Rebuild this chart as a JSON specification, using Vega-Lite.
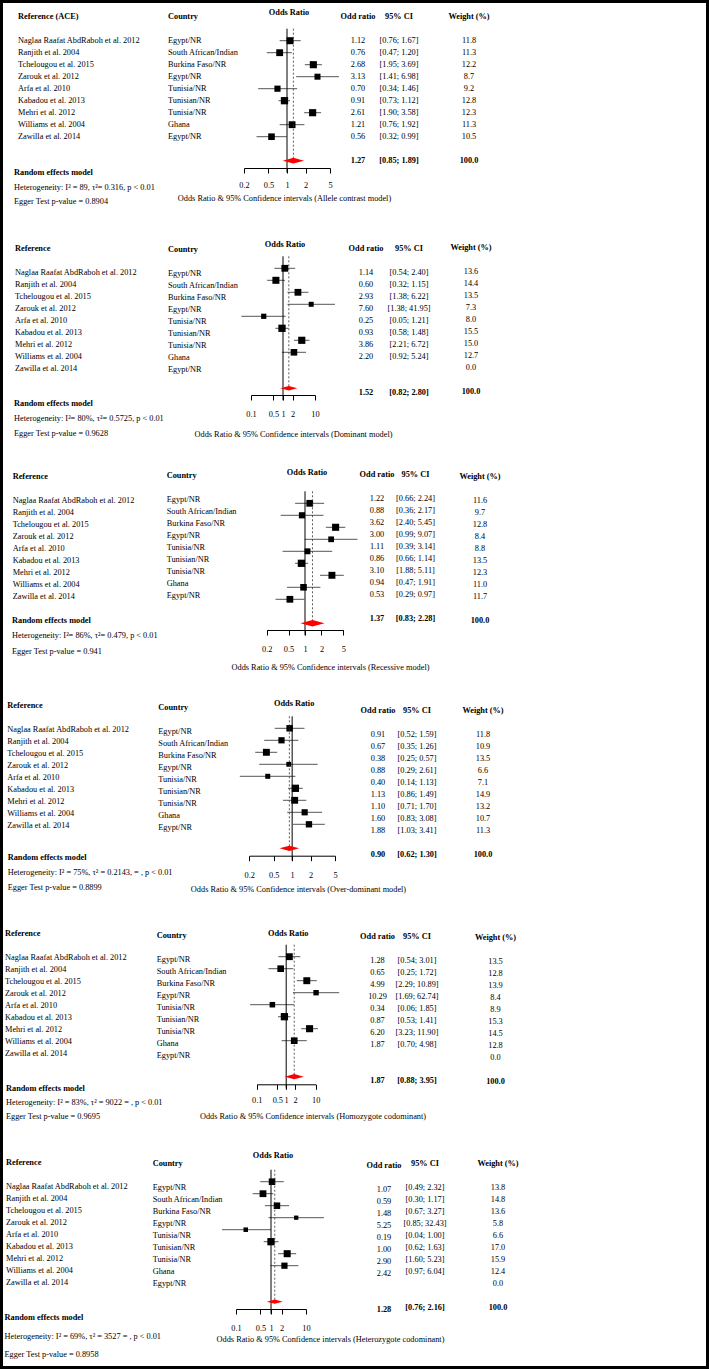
{
"$schema":"https://vega.github.io/schema/vega-lite/v6.json",
"width":709,"height":1369,"padding":0,"autosize":{"type":"none"},
"config":{"font":"Liberation Serif","view":{"stroke":"black","strokeWidth":6},
"text":{"font":"Liberation Serif","fontSize":8.3,"color":"black"},
"axis":{"labelFont":"Liberation Serif","titleFont":"Liberation Serif","labelFontSize":8.3,"titleFontSize":8.3,"titleFontWeight":"normal","labelColor":"black","titleColor":"black","domainColor":"black","tickColor":"black","domainWidth":1,"tickWidth":1,"tickSize":5,"grid":false,"labelOverlap":false,"labelFlush":false,"titleAlign":"center","titleBaseline":"top"}},
"datasets":{
"p1":[
{"k":"_h","t":"h","s":"Reference (ACE)","c":"Country","f":"Odds Ratio","ort":"Odd ratio","cit":"95% CI","wt":"Weight (%)"},
{"k":"s1","t":"s","s":"Naglaa Raafat AbdRaboh et al. 2012","c":"Egypt/NR","or":1.12,"lo":0.76,"hi":1.67,"w":11.8,"ort":"1.12","cit":"[0.76; 1.67]","wt":"11.8"},
{"k":"s2","t":"s","s":"Ranjith et al. 2004","c":"South African/Indian","or":0.76,"lo":0.47,"hi":1.20,"w":11.3,"ort":"0.76","cit":"[0.47; 1.20]","wt":"11.3"},
{"k":"s3","t":"s","s":"Tchelougou et al. 2015","c":"Burkina Faso/NR","or":2.68,"lo":1.95,"hi":3.69,"w":12.2,"ort":"2.68","cit":"[1.95; 3.69]","wt":"12.2"},
{"k":"s4","t":"s","s":"Zarouk et al. 2012","c":"Egypt/NR","or":3.13,"lo":1.41,"hi":6.98,"w":8.7,"ort":"3.13","cit":"[1.41; 6.98]","wt":"8.7"},
{"k":"s5","t":"s","s":"Arfa et al. 2010","c":"Tunisia/NR","or":0.70,"lo":0.34,"hi":1.46,"w":9.2,"ort":"0.70","cit":"[0.34; 1.46]","wt":"9.2"},
{"k":"s6","t":"s","s":"Kabadou et al. 2013","c":"Tunisian/NR","or":0.91,"lo":0.73,"hi":1.12,"w":12.8,"ort":"0.91","cit":"[0.73; 1.12]","wt":"12.8"},
{"k":"s7","t":"s","s":"Mehri et al. 2012","c":"Tunisia/NR","or":2.61,"lo":1.90,"hi":3.58,"w":12.3,"ort":"2.61","cit":"[1.90; 3.58]","wt":"12.3"},
{"k":"s8","t":"s","s":"Williams et al. 2004","c":"Ghana","or":1.21,"lo":0.76,"hi":1.92,"w":11.3,"ort":"1.21","cit":"[0.76; 1.92]","wt":"11.3"},
{"k":"s9","t":"s","s":"Zawilla et al. 2014","c":"Egypt/NR","or":0.56,"lo":0.32,"hi":0.99,"w":10.5,"ort":"0.56","cit":"[0.32; 0.99]","wt":"10.5"},
{"k":"RE","t":"m","or":1.27,"lo":0.85,"hi":1.89,"ort":"1.27","cit":"[0.85; 1.89]","wt":"100.0"}],
"p2":[
{"k":"_h","t":"h","s":"Reference","c":"Country","f":"Odds Ratio","ort":"Odd ratio","cit":"95% CI","wt":"Weight (%)"},
{"k":"s1","t":"s","s":"Naglaa Raafat AbdRaboh et al. 2012","c":"Egypt/NR","or":1.14,"lo":0.54,"hi":2.40,"w":13.6,"ort":"1.14","cit":"[0.54; 2.40]","wt":"13.6"},
{"k":"s2","t":"s","s":"Ranjith et al. 2004","c":"South African/Indian","or":0.60,"lo":0.32,"hi":1.15,"w":14.4,"ort":"0.60","cit":"[0.32; 1.15]","wt":"14.4"},
{"k":"s3","t":"s","s":"Tchelougou et al. 2015","c":"Burkina Faso/NR","or":2.93,"lo":1.38,"hi":6.22,"w":13.5,"ort":"2.93","cit":"[1.38; 6.22]","wt":"13.5"},
{"k":"s4","t":"s","s":"Zarouk et al. 2012","c":"Egypt/NR","or":7.60,"lo":1.38,"hi":41.95,"w":7.3,"ort":"7.60","cit":"[1.38; 41.95]","wt":"7.3"},
{"k":"s5","t":"s","s":"Arfa et al. 2010","c":"Tunisia/NR","or":0.25,"lo":0.05,"hi":1.21,"w":8.0,"ort":"0.25","cit":"[0.05; 1.21]","wt":"8.0"},
{"k":"s6","t":"s","s":"Kabadou et al. 2013","c":"Tunisian/NR","or":0.93,"lo":0.58,"hi":1.48,"w":15.5,"ort":"0.93","cit":"[0.58; 1.48]","wt":"15.5"},
{"k":"s7","t":"s","s":"Mehri et al. 2012","c":"Tunisia/NR","or":3.86,"lo":2.21,"hi":6.72,"w":15.0,"ort":"3.86","cit":"[2.21; 6.72]","wt":"15.0"},
{"k":"s8","t":"s","s":"Williams et al. 2004","c":"Ghana","or":2.20,"lo":0.92,"hi":5.24,"w":12.7,"ort":"2.20","cit":"[0.92; 5.24]","wt":"12.7"},
{"k":"s9","t":"s","s":"Zawilla et al. 2014","c":"Egypt/NR","w":0,"wt":"0.0"},
{"k":"RE","t":"m","or":1.52,"lo":0.82,"hi":2.80,"ort":"1.52","cit":"[0.82; 2.80]","wt":"100.0"}],
"p3":[
{"k":"_h","t":"h","s":"Reference","c":"Country","f":"Odds Ratio","ort":"Odd ratio","cit":"95% CI","wt":"Weight (%)"},
{"k":"s1","t":"s","s":"Naglaa Raafat AbdRaboh et al. 2012","c":"Egypt/NR","or":1.22,"lo":0.66,"hi":2.24,"w":11.6,"ort":"1.22","cit":"[0.66; 2.24]","wt":"11.6"},
{"k":"s2","t":"s","s":"Ranjith et al. 2004","c":"South African/Indian","or":0.88,"lo":0.36,"hi":2.17,"w":9.7,"ort":"0.88","cit":"[0.36; 2.17]","wt":"9.7"},
{"k":"s3","t":"s","s":"Tchelougou et al. 2015","c":"Burkina Faso/NR","or":3.62,"lo":2.40,"hi":5.45,"w":12.8,"ort":"3.62","cit":"[2.40; 5.45]","wt":"12.8"},
{"k":"s4","t":"s","s":"Zarouk et al. 2012","c":"Egypt/NR","or":3.00,"lo":0.99,"hi":9.07,"w":8.4,"ort":"3.00","cit":"[0.99; 9.07]","wt":"8.4"},
{"k":"s5","t":"s","s":"Arfa et al. 2010","c":"Tunisia/NR","or":1.11,"lo":0.39,"hi":3.14,"w":8.8,"ort":"1.11","cit":"[0.39; 3.14]","wt":"8.8"},
{"k":"s6","t":"s","s":"Kabadou et al. 2013","c":"Tunisian/NR","or":0.86,"lo":0.66,"hi":1.14,"w":13.5,"ort":"0.86","cit":"[0.66; 1.14]","wt":"13.5"},
{"k":"s7","t":"s","s":"Mehri et al. 2012","c":"Tunisia/NR","or":3.10,"lo":1.88,"hi":5.11,"w":12.3,"ort":"3.10","cit":"[1.88; 5.11]","wt":"12.3"},
{"k":"s8","t":"s","s":"Williams et al. 2004","c":"Ghana","or":0.94,"lo":0.47,"hi":1.91,"w":11.0,"ort":"0.94","cit":"[0.47; 1.91]","wt":"11.0"},
{"k":"s9","t":"s","s":"Zawilla et al. 2014","c":"Egypt/NR","or":0.53,"lo":0.29,"hi":0.97,"w":11.7,"ort":"0.53","cit":"[0.29; 0.97]","wt":"11.7"},
{"k":"RE","t":"m","or":1.37,"lo":0.83,"hi":2.28,"ort":"1.37","cit":"[0.83; 2.28]","wt":"100.0"}],
"p4":[
{"k":"_h","t":"h","s":"Reference","c":"Country","f":"Odds Ratio","ort":"Odd ratio","cit":"95% CI","wt":"Weight (%)"},
{"k":"s1","t":"s","s":"Naglaa Raafat AbdRaboh et al. 2012","c":"Egypt/NR","or":0.91,"lo":0.52,"hi":1.59,"w":11.8,"ort":"0.91","cit":"[0.52; 1.59]","wt":"11.8"},
{"k":"s2","t":"s","s":"Ranjith et al. 2004","c":"South African/Indian","or":0.67,"lo":0.35,"hi":1.26,"w":10.9,"ort":"0.67","cit":"[0.35; 1.26]","wt":"10.9"},
{"k":"s3","t":"s","s":"Tchelougou et al. 2015","c":"Burkina Faso/NR","or":0.38,"lo":0.25,"hi":0.57,"w":13.5,"ort":"0.38","cit":"[0.25; 0.57]","wt":"13.5"},
{"k":"s4","t":"s","s":"Zarouk et al. 2012","c":"Egypt/NR","or":0.88,"lo":0.29,"hi":2.61,"w":6.6,"ort":"0.88","cit":"[0.29; 2.61]","wt":"6.6"},
{"k":"s5","t":"s","s":"Arfa et al. 2010","c":"Tunisia/NR","or":0.40,"lo":0.14,"hi":1.13,"w":7.1,"ort":"0.40","cit":"[0.14; 1.13]","wt":"7.1"},
{"k":"s6","t":"s","s":"Kabadou et al. 2013","c":"Tunisian/NR","or":1.13,"lo":0.86,"hi":1.49,"w":14.9,"ort":"1.13","cit":"[0.86; 1.49]","wt":"14.9"},
{"k":"s7","t":"s","s":"Mehri et al. 2012","c":"Tunisia/NR","or":1.10,"lo":0.71,"hi":1.70,"w":13.2,"ort":"1.10","cit":"[0.71; 1.70]","wt":"13.2"},
{"k":"s8","t":"s","s":"Williams et al. 2004","c":"Ghana","or":1.60,"lo":0.83,"hi":3.08,"w":10.7,"ort":"1.60","cit":"[0.83; 3.08]","wt":"10.7"},
{"k":"s9","t":"s","s":"Zawilla et al. 2014","c":"Egypt/NR","or":1.88,"lo":1.03,"hi":3.41,"w":11.3,"ort":"1.88","cit":"[1.03; 3.41]","wt":"11.3"},
{"k":"RE","t":"m","or":0.90,"lo":0.62,"hi":1.30,"ort":"0.90","cit":"[0.62; 1.30]","wt":"100.0"}],
"p5":[
{"k":"_h","t":"h","s":"Reference","c":"Country","f":"Odds Ratio","ort":"Odd ratio","cit":"95% CI","wt":"Weight (%)"},
{"k":"s1","t":"s","s":"Naglaa Raafat AbdRaboh et al. 2012","c":"Egypt/NR","or":1.28,"lo":0.54,"hi":3.01,"w":13.5,"ort":"1.28","cit":"[0.54; 3.01]","wt":"13.5"},
{"k":"s2","t":"s","s":"Ranjith et al. 2004","c":"South African/Indian","or":0.65,"lo":0.25,"hi":1.72,"w":12.8,"ort":"0.65","cit":"[0.25; 1.72]","wt":"12.8"},
{"k":"s3","t":"s","s":"Tchelougou et al. 2015","c":"Burkina Faso/NR","or":4.99,"lo":2.29,"hi":10.89,"w":13.9,"ort":"4.99","cit":"[2.29; 10.89]","wt":"13.9"},
{"k":"s4","t":"s","s":"Zarouk et al. 2012","c":"Egypt/NR","or":10.29,"lo":1.69,"hi":62.74,"w":8.4,"ort":"10.29","cit":"[1.69; 62.74]","wt":"8.4"},
{"k":"s5","t":"s","s":"Arfa et al. 2010","c":"Tunisia/NR","or":0.34,"lo":0.06,"hi":1.85,"w":8.9,"ort":"0.34","cit":"[0.06; 1.85]","wt":"8.9"},
{"k":"s6","t":"s","s":"Kabadou et al. 2013","c":"Tunisian/NR","or":0.87,"lo":0.53,"hi":1.41,"w":15.3,"ort":"0.87","cit":"[0.53; 1.41]","wt":"15.3"},
{"k":"s7","t":"s","s":"Mehri et al. 2012","c":"Tunisia/NR","or":6.20,"lo":3.23,"hi":11.90,"w":14.5,"ort":"6.20","cit":"[3.23; 11.90]","wt":"14.5"},
{"k":"s8","t":"s","s":"Williams et al. 2004","c":"Ghana","or":1.87,"lo":0.70,"hi":4.98,"w":12.8,"ort":"1.87","cit":"[0.70; 4.98]","wt":"12.8"},
{"k":"s9","t":"s","s":"Zawilla et al. 2014","c":"Egypt/NR","w":0,"wt":"0.0"},
{"k":"RE","t":"m","or":1.87,"lo":0.88,"hi":3.95,"ort":"1.87","cit":"[0.88; 3.95]","wt":"100.0"}],
"p6":[
{"k":"_h","t":"h","s":"Reference","c":"Country","f":"Odds Ratio","ort":"Odd ratio","cit":"95% CI","wt":"Weight (%)"},
{"k":"s1","t":"s","s":"Naglaa Raafat AbdRaboh et al. 2012","c":"Egypt/NR","or":1.07,"lo":0.49,"hi":2.32,"w":13.8,"ort":"1.07","cit":"[0.49; 2.32]","wt":"13.8"},
{"k":"s2","t":"s","s":"Ranjith et al. 2004","c":"South African/Indian","or":0.59,"lo":0.30,"hi":1.17,"w":14.8,"ort":"0.59","cit":"[0.30; 1.17]","wt":"14.8"},
{"k":"s3","t":"s","s":"Tchelougou et al. 2015","c":"Burkina Faso/NR","or":1.48,"lo":0.67,"hi":3.27,"w":13.6,"ort":"1.48","cit":"[0.67; 3.27]","wt":"13.6"},
{"k":"s4","t":"s","s":"Zarouk et al. 2012","c":"Egypt/NR","or":5.25,"lo":0.85,"hi":32.43,"w":5.8,"ort":"5.25","cit":"[0.85; 32.43]","wt":"5.8"},
{"k":"s5","t":"s","s":"Arfa et al. 2010","c":"Tunisia/NR","or":0.19,"lo":0.04,"hi":1.00,"w":6.6,"ort":"0.19","cit":"[0.04; 1.00]","wt":"6.6"},
{"k":"s6","t":"s","s":"Kabadou et al. 2013","c":"Tunisian/NR","or":1.00,"lo":0.62,"hi":1.63,"w":17.0,"ort":"1.00","cit":"[0.62; 1.63]","wt":"17.0"},
{"k":"s7","t":"s","s":"Mehri et al. 2012","c":"Tunisia/NR","or":2.90,"lo":1.60,"hi":5.23,"w":15.9,"ort":"2.90","cit":"[1.60; 5.23]","wt":"15.9"},
{"k":"s8","t":"s","s":"Williams et al. 2004","c":"Ghana","or":2.42,"lo":0.97,"hi":6.04,"w":12.4,"ort":"2.42","cit":"[0.97; 6.04]","wt":"12.4"},
{"k":"s9","t":"s","s":"Zawilla et al. 2014","c":"Egypt/NR","w":0,"wt":"0.0"},
{"k":"RE","t":"m","or":1.28,"lo":0.76,"hi":2.16,"ort":"1.28","cit":"[0.76; 2.16]","wt":"100.0"}]
},
"resolve":{"scale":{"x":"independent","y":"independent","size":"independent"},"axis":{"x":"independent","y":"independent"}},
"layer":[
{"data":{"name":"p1"},"resolve":{"scale":{"x":"independent"},"axis":{"x":"independent"}},
"layer":[
{"layer":[
{"transform":[{"filter":"datum.t == 's' && isValid(datum.lo)"}],"mark":{"type":"rule","color":"#555","strokeWidth":1},
"encoding":{"x":{"field":"lo","type":"quantitative","scale":{"type":"log","domain":[0.2,5],"range":[244,330],"nice":false},"axis":{"orient":"bottom","offset":-1201,"values":[0.2,0.5,1,2,5],"format":"~g","labelPadding":7,"title":"Odds Ratio & 95% Confidence intervals (Allele contrast model)","titleX":284,"titleY":25}},
"x2":{"field":"hi"},
"y":{"field":"k","type":"nominal","scale":{"type":"point","domain":["_h","_g","s1","s2","s3","s4","s5","s6","s7","s8","s9","_s","RE","_r"],"range":[16.7,172.7],"padding":0},"axis":null}}},
{"transform":[{"filter":"datum.t == 's' && isValid(datum.lo)"}],"mark":{"type":"square","filled":true,"color":"black","opacity":1},
"encoding":{"x":{"field":"or","type":"quantitative"},"y":{"field":"k","type":"nominal","axis":null},"size":{"field":"w","type":"quantitative","scale":{"domain":[0,12.8],"range":[0,53]},"legend":null}}},
{"transform":[{"filter":"datum.t == 'm'"}],"mark":{"type":"rule","color":"black","strokeWidth":1},
"encoding":{"x":{"datum":1,"type":"quantitative"},"y":{"datum":"_g","type":"nominal","axis":null},"y2":{"datum":"_r"}}},
{"transform":[{"filter":"datum.t == 'm'"}],"mark":{"type":"rule","color":"#333","strokeWidth":0.8,"strokeDash":[2,2]},
"encoding":{"x":{"field":"or","type":"quantitative"},"y":{"datum":"_g","type":"nominal","axis":null},"y2":{"datum":"RE"}}},
{"transform":[{"filter":"datum.t == 'm'"}],"mark":{"type":"point","shape":"M-1,0L0,-0.27L1,0L0,0.27Z","filled":true,"color":"#ff0000","opacity":1,"size":454},
"encoding":{"x":{"field":"or","type":"quantitative"},"y":{"field":"k","type":"nominal","axis":null}}},
{"transform":[{"filter":"datum.t == 'h'"}],"mark":{"type":"text","fontWeight":"bold","align":"center","dx":2,"dy":-3.7},
"encoding":{"x":{"datum":1,"type":"quantitative"},"y":{"field":"k","type":"nominal","axis":null},"text":{"field":"f","type":"nominal"}}}
]},
{"transform":[{"filter":"isValid(datum.s)"}],"mark":{"type":"text","align":"left","dy":0,"fontWeight":{"expr":"datum.t == 's' ? 'normal' : 'bold'"}},
"encoding":{"x":{"datum":"ref","type":"nominal","scale":{"type":"point","range":[18,18],"padding":0},"axis":null},"y":{"field":"k","type":"nominal","axis":null},"text":{"field":"s","type":"nominal"}}},
{"transform":[{"filter":"isValid(datum.c)"}],"mark":{"type":"text","align":"left","dy":0,"fontWeight":{"expr":"datum.t == 's' ? 'normal' : 'bold'"}},
"encoding":{"x":{"datum":"country","type":"nominal","scale":{"type":"point","range":[168,168],"padding":0},"axis":null},"y":{"field":"k","type":"nominal","axis":null},"text":{"field":"c","type":"nominal"}}},
{"transform":[{"filter":"isValid(datum.ort)"}],"mark":{"type":"text","align":"center","dy":0,"fontWeight":{"expr":"datum.t == 's' ? 'normal' : 'bold'"}},
"encoding":{"x":{"datum":"or","type":"nominal","scale":{"type":"point","range":[358,358],"padding":0},"axis":null},"y":{"field":"k","type":"nominal","axis":null},"text":{"field":"ort","type":"nominal"}}},
{"transform":[{"filter":"isValid(datum.cit)"}],"mark":{"type":"text","align":"center","dy":0,"fontWeight":{"expr":"datum.t == 's' ? 'normal' : 'bold'"}},
"encoding":{"x":{"datum":"ci","type":"nominal","scale":{"type":"point","range":[399,399],"padding":0},"axis":null},"y":{"field":"k","type":"nominal","axis":null},"text":{"field":"cit","type":"nominal"}}},
{"transform":[{"filter":"isValid(datum.wt)"}],"mark":{"type":"text","align":"center","dy":0,"fontWeight":{"expr":"datum.t == 's' ? 'normal' : 'bold'"}},
"encoding":{"x":{"datum":"w","type":"nominal","scale":{"type":"point","range":[469,469],"padding":0},"axis":null},"y":{"field":"k","type":"nominal","axis":null},"text":{"field":"wt","type":"nominal"}}}
]},
{"data":{"values":[{"k":"a","t":"Random effects model"},{"k":"b","t":"Heterogeneity: I² = 89, τ²= 0.316, p < 0.01"},{"k":"c","t":"Egger Test p-value = 0.8904"}]},
"mark":{"type":"text","align":"left","fontWeight":{"expr":"datum.k == 'a' ? 'bold' : 'normal'"}},
"encoding":{"x":{"datum":"n","type":"nominal","scale":{"type":"point","range":[14,14],"padding":0},"axis":null},"y":{"field":"k","type":"nominal","scale":{"type":"point","domain":["a","b","c"],"range":[173,202],"padding":0},"axis":null},"text":{"field":"t","type":"nominal"}}},

{"data":{"name":"p2"},"resolve":{"scale":{"x":"independent"},"axis":{"x":"independent"}},
"layer":[
{"layer":[
{"transform":[{"filter":"datum.t == 's' && isValid(datum.lo)"}],"mark":{"type":"rule","color":"#555","strokeWidth":1},
"encoding":{"x":{"field":"lo","type":"quantitative","scale":{"type":"log","domain":[0.1,10],"range":[251,315],"nice":false},"axis":{"orient":"bottom","offset":-974,"values":[0.1,0.5,1,2,10],"format":"~g","labelPadding":9,"title":"Odds Ratio & 95% Confidence intervals (Dominant model)","titleX":293,"titleY":34}},
"x2":{"field":"hi"},
"y":{"field":"k","type":"nominal","scale":{"type":"point","domain":["_h","_g","s1","s2","s3","s4","s5","s6","s7","s8","s9","_s","RE","_r"],"range":[244.3,400.3],"padding":0},"axis":null}}},
{"transform":[{"filter":"datum.t == 's' && isValid(datum.lo)"}],"mark":{"type":"square","filled":true,"color":"black","opacity":1},
"encoding":{"x":{"field":"or","type":"quantitative"},"y":{"field":"k","type":"nominal","axis":null},"size":{"field":"w","type":"quantitative","scale":{"domain":[0,15.5],"range":[0,53]},"legend":null}}},
{"transform":[{"filter":"datum.t == 'm'"}],"mark":{"type":"rule","color":"black","strokeWidth":1},
"encoding":{"x":{"datum":1,"type":"quantitative"},"y":{"datum":"_g","type":"nominal","axis":null},"y2":{"datum":"_r"}}},
{"transform":[{"filter":"datum.t == 'm'"}],"mark":{"type":"rule","color":"#333","strokeWidth":0.8,"strokeDash":[2,2]},
"encoding":{"x":{"field":"or","type":"quantitative"},"y":{"datum":"_g","type":"nominal","axis":null},"y2":{"datum":"RE"}}},
{"transform":[{"filter":"datum.t == 'm'"}],"mark":{"type":"point","shape":"M-1,0L0,-0.27L1,0L0,0.27Z","filled":true,"color":"#ff0000","opacity":1,"size":292},
"encoding":{"x":{"field":"or","type":"quantitative"},"y":{"field":"k","type":"nominal","axis":null}}},
{"transform":[{"filter":"datum.t == 'h'"}],"mark":{"type":"text","fontWeight":"bold","align":"center","dx":2,"dy":0.7},
"encoding":{"x":{"datum":1,"type":"quantitative"},"y":{"field":"k","type":"nominal","axis":null},"text":{"field":"f","type":"nominal"}}}
]},
{"transform":[{"filter":"isValid(datum.s)"}],"mark":{"type":"text","align":"left","dy":5,"fontWeight":{"expr":"datum.t == 's' ? 'normal' : 'bold'"}},
"encoding":{"x":{"datum":"ref","type":"nominal","scale":{"type":"point","range":[15,15],"padding":0},"axis":null},"y":{"field":"k","type":"nominal","axis":null},"text":{"field":"s","type":"nominal"}}},
{"transform":[{"filter":"isValid(datum.c)"}],"mark":{"type":"text","align":"left","dy":6,"fontWeight":{"expr":"datum.t == 's' ? 'normal' : 'bold'"}},
"encoding":{"x":{"datum":"country","type":"nominal","scale":{"type":"point","range":[168,168],"padding":0},"axis":null},"y":{"field":"k","type":"nominal","axis":null},"text":{"field":"c","type":"nominal"}}},
{"transform":[{"filter":"isValid(datum.ort)"}],"mark":{"type":"text","align":"center","dy":5,"fontWeight":{"expr":"datum.t == 's' ? 'normal' : 'bold'"}},
"encoding":{"x":{"datum":"or","type":"nominal","scale":{"type":"point","range":[366,366],"padding":0},"axis":null},"y":{"field":"k","type":"nominal","axis":null},"text":{"field":"ort","type":"nominal"}}},
{"transform":[{"filter":"isValid(datum.cit)"}],"mark":{"type":"text","align":"center","dy":5,"fontWeight":{"expr":"datum.t == 's' ? 'normal' : 'bold'"}},
"encoding":{"x":{"datum":"ci","type":"nominal","scale":{"type":"point","range":[409,409],"padding":0},"axis":null},"y":{"field":"k","type":"nominal","axis":null},"text":{"field":"cit","type":"nominal"}}},
{"transform":[{"filter":"isValid(datum.wt)"}],"mark":{"type":"text","align":"center","dy":3.5,"fontWeight":{"expr":"datum.t == 's' ? 'normal' : 'bold'"}},
"encoding":{"x":{"datum":"w","type":"nominal","scale":{"type":"point","range":[471,471],"padding":0},"axis":null},"y":{"field":"k","type":"nominal","axis":null},"text":{"field":"wt","type":"nominal"}}}
]},
{"data":{"values":[{"k":"a","t":"Random effects model"},{"k":"b","t":"Heterogeneity: I²= 80%, τ²= 0.5725, p < 0.01"},{"k":"c","t":"Egger Test p-value = 0.9628"}]},
"mark":{"type":"text","align":"left","fontWeight":{"expr":"datum.k == 'a' ? 'bold' : 'normal'"}},
"encoding":{"x":{"datum":"n","type":"nominal","scale":{"type":"point","range":[14,14],"padding":0},"axis":null},"y":{"field":"k","type":"nominal","scale":{"type":"point","domain":["a","b","c"],"range":[404,434],"padding":0},"axis":null},"text":{"field":"t","type":"nominal"}}},

{"data":{"name":"p3"},"resolve":{"scale":{"x":"independent"},"axis":{"x":"independent"}},
"layer":[
{"layer":[
{"transform":[{"filter":"datum.t == 's' && isValid(datum.lo)"}],"mark":{"type":"rule","color":"#555","strokeWidth":1},
"encoding":{"x":{"field":"lo","type":"quantitative","scale":{"type":"log","domain":[0.2,5],"range":[266.7,343.3],"nice":false},"axis":{"orient":"bottom","offset":-739,"values":[0.2,0.5,1,2,5],"format":"~g","labelPadding":9,"title":"Odds Ratio & 95% Confidence intervals (Recessive model)","titleX":330,"titleY":32.7}},
"x2":{"field":"hi"},
"y":{"field":"k","type":"nominal","scale":{"type":"point","domain":["_h","_g","s1","s2","s3","s4","s5","s6","s7","s8","s9","_s","RE","_r"],"range":[479.3,635.3],"padding":0},"axis":null}}},
{"transform":[{"filter":"datum.t == 's' && isValid(datum.lo)"}],"mark":{"type":"square","filled":true,"color":"black","opacity":1},
"encoding":{"x":{"field":"or","type":"quantitative"},"y":{"field":"k","type":"nominal","axis":null},"size":{"field":"w","type":"quantitative","scale":{"domain":[0,13.5],"range":[0,53]},"legend":null}}},
{"transform":[{"filter":"datum.t == 'm'"}],"mark":{"type":"rule","color":"black","strokeWidth":1},
"encoding":{"x":{"datum":1,"type":"quantitative"},"y":{"datum":"_g","type":"nominal","axis":null},"y2":{"datum":"_r"}}},
{"transform":[{"filter":"datum.t == 'm'"}],"mark":{"type":"rule","color":"#333","strokeWidth":0.8,"strokeDash":[2,2]},
"encoding":{"x":{"field":"or","type":"quantitative"},"y":{"datum":"_g","type":"nominal","axis":null},"y2":{"datum":"RE"}}},
{"transform":[{"filter":"datum.t == 'm'"}],"mark":{"type":"point","shape":"M-1,0L0,-0.27L1,0L0,0.27Z","filled":true,"color":"#ff0000","opacity":1,"size":577},
"encoding":{"x":{"field":"or","type":"quantitative"},"y":{"field":"k","type":"nominal","axis":null}}},
{"transform":[{"filter":"datum.t == 'h'"}],"mark":{"type":"text","fontWeight":"bold","align":"center","dx":2,"dy":-6},
"encoding":{"x":{"datum":1,"type":"quantitative"},"y":{"field":"k","type":"nominal","axis":null},"text":{"field":"f","type":"nominal"}}}
]},
{"transform":[{"filter":"isValid(datum.s)"}],"mark":{"type":"text","align":"left","dy":-2.6,"fontWeight":{"expr":"datum.t == 's' ? 'normal' : 'bold'"}},
"encoding":{"x":{"datum":"ref","type":"nominal","scale":{"type":"point","range":[12.7,12.7],"padding":0},"axis":null},"y":{"field":"k","type":"nominal","axis":null},"text":{"field":"s","type":"nominal"}}},
{"transform":[{"filter":"isValid(datum.c)"}],"mark":{"type":"text","align":"left","dy":-3.5,"fontWeight":{"expr":"datum.t == 's' ? 'normal' : 'bold'"}},
"encoding":{"x":{"datum":"country","type":"nominal","scale":{"type":"point","range":[166.7,166.7],"padding":0},"axis":null},"y":{"field":"k","type":"nominal","axis":null},"text":{"field":"c","type":"nominal"}}},
{"transform":[{"filter":"isValid(datum.ort)"}],"mark":{"type":"text","align":"center","dy":-4.6,"fontWeight":{"expr":"datum.t == 's' ? 'normal' : 'bold'"}},
"encoding":{"x":{"datum":"or","type":"nominal","scale":{"type":"point","range":[377,377],"padding":0},"axis":null},"y":{"field":"k","type":"nominal","axis":null},"text":{"field":"ort","type":"nominal"}}},
{"transform":[{"filter":"isValid(datum.cit)"}],"mark":{"type":"text","align":"center","dy":-4.2,"fontWeight":{"expr":"datum.t == 's' ? 'normal' : 'bold'"}},
"encoding":{"x":{"datum":"ci","type":"nominal","scale":{"type":"point","range":[415.5,415.5],"padding":0},"axis":null},"y":{"field":"k","type":"nominal","axis":null},"text":{"field":"cit","type":"nominal"}}},
{"transform":[{"filter":"isValid(datum.wt)"}],"mark":{"type":"text","align":"center","dy":-2.6,"fontWeight":{"expr":"datum.t == 's' ? 'normal' : 'bold'"}},
"encoding":{"x":{"datum":"w","type":"nominal","scale":{"type":"point","range":[480,480],"padding":0},"axis":null},"y":{"field":"k","type":"nominal","axis":null},"text":{"field":"wt","type":"nominal"}}}
]},
{"data":{"values":[{"k":"a","t":"Random effects model"},{"k":"b","t":"Heterogeneity: I²= 86%, τ²= 0.479, p < 0.01"},{"k":"c","t":"Egger Test p-value = 0.941"}]},
"mark":{"type":"text","align":"left","fontWeight":{"expr":"datum.k == 'a' ? 'bold' : 'normal'"}},
"encoding":{"x":{"datum":"n","type":"nominal","scale":{"type":"point","range":[12,12],"padding":0},"axis":null},"y":{"field":"k","type":"nominal","scale":{"type":"point","domain":["a","b","c"],"range":[620.7,651.7],"padding":0},"axis":null},"text":{"field":"t","type":"nominal"}}},

{"data":{"name":"p4"},"resolve":{"scale":{"x":"independent"},"axis":{"x":"independent"}},
"layer":[
{"layer":[
{"transform":[{"filter":"datum.t == 's' && isValid(datum.lo)"}],"mark":{"type":"rule","color":"#555","strokeWidth":1},
"encoding":{"x":{"field":"lo","type":"quantitative","scale":{"type":"log","domain":[0.2,5],"range":[249.3,335],"nice":false},"axis":{"orient":"bottom","offset":-513.3,"values":[0.2,0.5,1,2,5],"format":"~g","labelPadding":9.3,"title":"Odds Ratio & 95% Confidence intervals (Over-dominant model)","titleX":298,"titleY":28.6}},
"x2":{"field":"hi"},
"y":{"field":"k","type":"nominal","scale":{"type":"point","domain":["_h","_g","s1","s2","s3","s4","s5","s6","s7","s8","s9","_s","RE","_r"],"range":[704.3,860.3],"padding":0},"axis":null}}},
{"transform":[{"filter":"datum.t == 's' && isValid(datum.lo)"}],"mark":{"type":"square","filled":true,"color":"black","opacity":1},
"encoding":{"x":{"field":"or","type":"quantitative"},"y":{"field":"k","type":"nominal","axis":null},"size":{"field":"w","type":"quantitative","scale":{"domain":[0,14.9],"range":[0,53]},"legend":null}}},
{"transform":[{"filter":"datum.t == 'm'"}],"mark":{"type":"rule","color":"black","strokeWidth":1},
"encoding":{"x":{"datum":1,"type":"quantitative"},"y":{"datum":"_g","type":"nominal","axis":null},"y2":{"datum":"_r"}}},
{"transform":[{"filter":"datum.t == 'm'"}],"mark":{"type":"rule","color":"#333","strokeWidth":0.8,"strokeDash":[2,2]},
"encoding":{"x":{"field":"or","type":"quantitative"},"y":{"datum":"_g","type":"nominal","axis":null},"y2":{"datum":"RE"}}},
{"transform":[{"filter":"datum.t == 'm'"}],"mark":{"type":"point","shape":"M-1,0L0,-0.27L1,0L0,0.27Z","filled":true,"color":"#ff0000","opacity":1,"size":388},
"encoding":{"x":{"field":"or","type":"quantitative"},"y":{"field":"k","type":"nominal","axis":null}}},
{"transform":[{"filter":"datum.t == 'h'"}],"mark":{"type":"text","fontWeight":"bold","align":"center","dx":2,"dy":0},
"encoding":{"x":{"datum":1,"type":"quantitative"},"y":{"field":"k","type":"nominal","axis":null},"text":{"field":"f","type":"nominal"}}}
]},
{"transform":[{"filter":"isValid(datum.s)"}],"mark":{"type":"text","align":"left","dy":1.6,"fontWeight":{"expr":"datum.t == 's' ? 'normal' : 'bold'"}},
"encoding":{"x":{"datum":"ref","type":"nominal","scale":{"type":"point","range":[7.3,7.3],"padding":0},"axis":null},"y":{"field":"k","type":"nominal","axis":null},"text":{"field":"s","type":"nominal"}}},
{"transform":[{"filter":"isValid(datum.c)"}],"mark":{"type":"text","align":"left","dy":4.1,"fontWeight":{"expr":"datum.t == 's' ? 'normal' : 'bold'"}},
"encoding":{"x":{"datum":"country","type":"nominal","scale":{"type":"point","range":[158.3,158.3],"padding":0},"axis":null},"y":{"field":"k","type":"nominal","axis":null},"text":{"field":"c","type":"nominal"}}},
{"transform":[{"filter":"isValid(datum.ort)"}],"mark":{"type":"text","align":"center","dy":6.5,"fontWeight":{"expr":"datum.t == 's' ? 'normal' : 'bold'"}},
"encoding":{"x":{"datum":"or","type":"nominal","scale":{"type":"point","range":[378,378],"padding":0},"axis":null},"y":{"field":"k","type":"nominal","axis":null},"text":{"field":"ort","type":"nominal"}}},
{"transform":[{"filter":"isValid(datum.cit)"}],"mark":{"type":"text","align":"center","dy":6.5,"fontWeight":{"expr":"datum.t == 's' ? 'normal' : 'bold'"}},
"encoding":{"x":{"datum":"ci","type":"nominal","scale":{"type":"point","range":[417,417],"padding":0},"axis":null},"y":{"field":"k","type":"nominal","axis":null},"text":{"field":"cit","type":"nominal"}}},
{"transform":[{"filter":"isValid(datum.wt)"}],"mark":{"type":"text","align":"center","dy":6.8,"fontWeight":{"expr":"datum.t == 's' ? 'normal' : 'bold'"}},
"encoding":{"x":{"datum":"w","type":"nominal","scale":{"type":"point","range":[483,483],"padding":0},"axis":null},"y":{"field":"k","type":"nominal","axis":null},"text":{"field":"wt","type":"nominal"}}}
]},
{"data":{"values":[{"k":"a","t":"Random effects model"},{"k":"b","t":"Heterogeneity: I² = 75%, τ² = 0.2143, = , p < 0.01"},{"k":"c","t":"Egger Test p-value = 0.8899"}]},
"mark":{"type":"text","align":"left","fontWeight":{"expr":"datum.k == 'a' ? 'bold' : 'normal'"}},
"encoding":{"x":{"datum":"n","type":"nominal","scale":{"type":"point","range":[7.7,7.7],"padding":0},"axis":null},"y":{"field":"k","type":"nominal","scale":{"type":"point","domain":["a","b","c"],"range":[858.3,888.3],"padding":0},"axis":null},"text":{"field":"t","type":"nominal"}}},

{"data":{"name":"p5"},"resolve":{"scale":{"x":"independent"},"axis":{"x":"independent"}},
"layer":[
{"layer":[
{"transform":[{"filter":"datum.t == 's' && isValid(datum.lo)"}],"mark":{"type":"rule","color":"#555","strokeWidth":1},
"encoding":{"x":{"field":"lo","type":"quantitative","scale":{"type":"log","domain":[0.1,10],"range":[256.7,315.7],"nice":false},"axis":{"orient":"bottom","offset":-284.7,"values":[0.1,0.5,1,2,10],"format":"~g","labelPadding":5.7,"title":"Odds Ratio & 95% Confidence intervals (Homozygote codominant)","titleX":312.5,"titleY":26.7}},
"x2":{"field":"hi"},
"y":{"field":"k","type":"nominal","scale":{"type":"point","domain":["_h","_g","s1","s2","s3","s4","s5","s6","s7","s8","s9","_s","RE","_r"],"range":[932.7,1088.7],"padding":0},"axis":null}}},
{"transform":[{"filter":"datum.t == 's' && isValid(datum.lo)"}],"mark":{"type":"square","filled":true,"color":"black","opacity":1},
"encoding":{"x":{"field":"or","type":"quantitative"},"y":{"field":"k","type":"nominal","axis":null},"size":{"field":"w","type":"quantitative","scale":{"domain":[0,15.3],"range":[0,53]},"legend":null}}},
{"transform":[{"filter":"datum.t == 'm'"}],"mark":{"type":"rule","color":"black","strokeWidth":1},
"encoding":{"x":{"datum":1,"type":"quantitative"},"y":{"datum":"_g","type":"nominal","axis":null},"y2":{"datum":"_r"}}},
{"transform":[{"filter":"datum.t == 'm'"}],"mark":{"type":"rule","color":"#333","strokeWidth":0.8,"strokeDash":[2,2]},
"encoding":{"x":{"field":"or","type":"quantitative"},"y":{"datum":"_g","type":"nominal","axis":null},"y2":{"datum":"RE"}}},
{"transform":[{"filter":"datum.t == 'm'"}],"mark":{"type":"point","shape":"M-1,0L0,-0.27L1,0L0,0.27Z","filled":true,"color":"#ff0000","opacity":1,"size":370},
"encoding":{"x":{"field":"or","type":"quantitative"},"y":{"field":"k","type":"nominal","axis":null}}},
{"transform":[{"filter":"datum.t == 'h'"}],"mark":{"type":"text","fontWeight":"bold","align":"center","dx":2,"dy":1.3},
"encoding":{"x":{"datum":1,"type":"quantitative"},"y":{"field":"k","type":"nominal","axis":null},"text":{"field":"f","type":"nominal"}}}
]},
{"transform":[{"filter":"isValid(datum.s)"}],"mark":{"type":"text","align":"left","dy":1.5,"fontWeight":{"expr":"datum.t == 's' ? 'normal' : 'bold'"}},
"encoding":{"x":{"datum":"ref","type":"nominal","scale":{"type":"point","range":[5,5],"padding":0},"axis":null},"y":{"field":"k","type":"nominal","axis":null},"text":{"field":"s","type":"nominal"}}},
{"transform":[{"filter":"isValid(datum.c)"}],"mark":{"type":"text","align":"left","dy":3.5,"fontWeight":{"expr":"datum.t == 's' ? 'normal' : 'bold'"}},
"encoding":{"x":{"datum":"country","type":"nominal","scale":{"type":"point","range":[156.7,156.7],"padding":0},"axis":null},"y":{"field":"k","type":"nominal","axis":null},"text":{"field":"c","type":"nominal"}}},
{"transform":[{"filter":"isValid(datum.ort)"}],"mark":{"type":"text","align":"center","dy":4.7,"fontWeight":{"expr":"datum.t == 's' ? 'normal' : 'bold'"}},
"encoding":{"x":{"datum":"or","type":"nominal","scale":{"type":"point","range":[377.5,377.5],"padding":0},"axis":null},"y":{"field":"k","type":"nominal","axis":null},"text":{"field":"ort","type":"nominal"}}},
{"transform":[{"filter":"isValid(datum.cit)"}],"mark":{"type":"text","align":"center","dy":4,"fontWeight":{"expr":"datum.t == 's' ? 'normal' : 'bold'"}},
"encoding":{"x":{"datum":"ci","type":"nominal","scale":{"type":"point","range":[417,417],"padding":0},"axis":null},"y":{"field":"k","type":"nominal","axis":null},"text":{"field":"cit","type":"nominal"}}},
{"transform":[{"filter":"isValid(datum.wt)"}],"mark":{"type":"text","align":"center","dy":4.8,"fontWeight":{"expr":"datum.t == 's' ? 'normal' : 'bold'"}},
"encoding":{"x":{"datum":"w","type":"nominal","scale":{"type":"point","range":[495.5,495.5],"padding":0},"axis":null},"y":{"field":"k","type":"nominal","axis":null},"text":{"field":"wt","type":"nominal"}}}
]},
{"data":{"values":[{"k":"a","t":"Random effects model"},{"k":"b","t":"Heterogeneity: I² = 83%, τ² = 9022 = , p < 0.01"},{"k":"c","t":"Egger Test p-value = 0.9695"}]},
"mark":{"type":"text","align":"left","fontWeight":{"expr":"datum.k == 'a' ? 'bold' : 'normal'"}},
"encoding":{"x":{"datum":"n","type":"nominal","scale":{"type":"point","range":[6,6],"padding":0},"axis":null},"y":{"field":"k","type":"nominal","scale":{"type":"point","domain":["a","b","c"],"range":[1089.3,1117.3],"padding":0},"axis":null},"text":{"field":"t","type":"nominal"}}},

{"data":{"name":"p6"},"resolve":{"scale":{"x":"independent"},"axis":{"x":"independent"}},
"layer":[
{"layer":[
{"transform":[{"filter":"datum.t == 's' && isValid(datum.lo)"}],"mark":{"type":"rule","color":"#555","strokeWidth":1},
"encoding":{"x":{"field":"lo","type":"quantitative","scale":{"type":"log","domain":[0.1,10],"range":[236,306],"nice":false},"axis":{"orient":"bottom","offset":-60,"values":[0.1,0.5,1,2,10],"format":"~g","labelPadding":9.3,"title":"Odds Ratio & 95% Confidence intervals (Heterozygote codominant)","titleX":330,"titleY":25.3}},
"x2":{"field":"hi"},
"y":{"field":"k","type":"nominal","scale":{"type":"point","domain":["_h","_g","s1","s2","s3","s4","s5","s6","s7","s8","s9","_s","RE","_r"],"range":[1157.7,1313.7],"padding":0},"axis":null}}},
{"transform":[{"filter":"datum.t == 's' && isValid(datum.lo)"}],"mark":{"type":"square","filled":true,"color":"black","opacity":1},
"encoding":{"x":{"field":"or","type":"quantitative"},"y":{"field":"k","type":"nominal","axis":null},"size":{"field":"w","type":"quantitative","scale":{"domain":[0,17],"range":[0,53]},"legend":null}}},
{"transform":[{"filter":"datum.t == 'm'"}],"mark":{"type":"rule","color":"black","strokeWidth":1},
"encoding":{"x":{"datum":1,"type":"quantitative"},"y":{"datum":"_g","type":"nominal","axis":null},"y2":{"datum":"_r"}}},
{"transform":[{"filter":"datum.t == 'm'"}],"mark":{"type":"rule","color":"#333","strokeWidth":0.8,"strokeDash":[2,2]},
"encoding":{"x":{"field":"or","type":"quantitative"},"y":{"datum":"_g","type":"nominal","axis":null},"y2":{"datum":"RE"}}},
{"transform":[{"filter":"datum.t == 'm'"}],"mark":{"type":"point","shape":"M-1,0L0,-0.27L1,0L0,0.27Z","filled":true,"color":"#ff0000","opacity":1,"size":252},
"encoding":{"x":{"field":"or","type":"quantitative"},"y":{"field":"k","type":"nominal","axis":null}}},
{"transform":[{"filter":"datum.t == 'h'"}],"mark":{"type":"text","fontWeight":"bold","align":"center","dx":2,"dy":-2},
"encoding":{"x":{"datum":1,"type":"quantitative"},"y":{"field":"k","type":"nominal","axis":null},"text":{"field":"f","type":"nominal"}}}
]},
{"transform":[{"filter":"isValid(datum.s)"}],"mark":{"type":"text","align":"left","dy":5,"fontWeight":{"expr":"datum.t == 's' ? 'normal' : 'bold'"}},
"encoding":{"x":{"datum":"ref","type":"nominal","scale":{"type":"point","range":[6,6],"padding":0},"axis":null},"y":{"field":"k","type":"nominal","axis":null},"text":{"field":"s","type":"nominal"}}},
{"transform":[{"filter":"isValid(datum.c)"}],"mark":{"type":"text","align":"left","dy":6.5,"fontWeight":{"expr":"datum.t == 's' ? 'normal' : 'bold'"}},
"encoding":{"x":{"datum":"country","type":"nominal","scale":{"type":"point","range":[152.7,152.7],"padding":0},"axis":null},"y":{"field":"k","type":"nominal","axis":null},"text":{"field":"c","type":"nominal"}}},
{"transform":[{"filter":"isValid(datum.ort)"}],"mark":{"type":"text","align":"center","dy":8.5,"fontWeight":{"expr":"datum.t == 's' ? 'normal' : 'bold'"}},
"encoding":{"x":{"datum":"or","type":"nominal","scale":{"type":"point","range":[384,384],"padding":0},"axis":null},"y":{"field":"k","type":"nominal","axis":null},"text":{"field":"ort","type":"nominal"}}},
{"transform":[{"filter":"isValid(datum.cit)"}],"mark":{"type":"text","align":"center","dy":6.5,"fontWeight":{"expr":"datum.t == 's' ? 'normal' : 'bold'"}},
"encoding":{"x":{"datum":"ci","type":"nominal","scale":{"type":"point","range":[425,425],"padding":0},"axis":null},"y":{"field":"k","type":"nominal","axis":null},"text":{"field":"cit","type":"nominal"}}},
{"transform":[{"filter":"isValid(datum.wt)"}],"mark":{"type":"text","align":"center","dy":6.5,"fontWeight":{"expr":"datum.t == 's' ? 'normal' : 'bold'"}},
"encoding":{"x":{"datum":"w","type":"nominal","scale":{"type":"point","range":[498,498],"padding":0},"axis":null},"y":{"field":"k","type":"nominal","axis":null},"text":{"field":"wt","type":"nominal"}}}
]},
{"data":{"values":[{"k":"a","t":"Random effects model"},{"k":"b","t":"Heterogeneity: I² = 69%, τ² = 3527 = , p < 0.01"},{"k":"c","t":"Egger Test p-value = 0.8958"}]},
"mark":{"type":"text","align":"left","fontWeight":{"expr":"datum.k == 'a' ? 'bold' : 'normal'"}},
"encoding":{"x":{"datum":"n","type":"nominal","scale":{"type":"point","range":[4.5,4.5],"padding":0},"axis":null},"y":{"field":"k","type":"nominal","scale":{"type":"point","domain":["a","b","c"],"range":[1318.3,1355],"padding":0},"axis":null},"text":{"field":"t","type":"nominal"}}}
]
}
